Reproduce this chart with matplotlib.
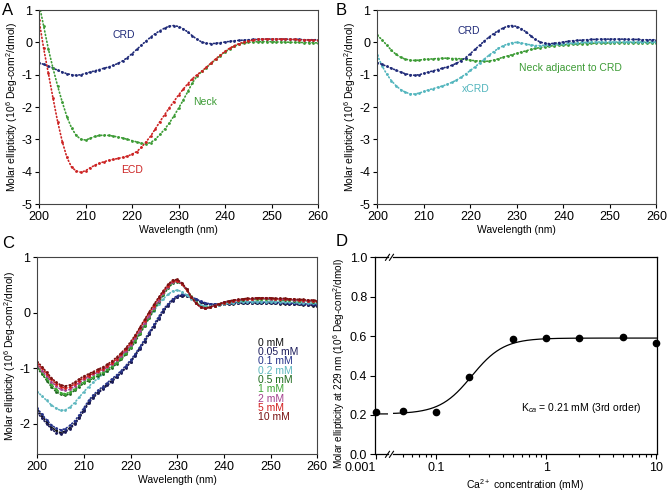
import numpy as np
import matplotlib
matplotlib.use('Agg')
import matplotlib.pyplot as plt
from matplotlib.lines import Line2D

plt.rcParams['font.family'] = ['Liberation Sans', 'DejaVu Sans']
plt.rcParams['mathtext.fontset'] = 'custom'
plt.rcParams['mathtext.rm'] = 'Liberation Sans'
plt.rcParams['mathtext.it'] = 'Liberation Sans:italic'
plt.rcParams['axes.unicode_minus'] = False

# wavelength grid (nm), 1 nm steps
wl = np.arange(200, 261)

# ---------------- panel A / B spectra (10^6 deg cm2/dmol) ----------------
crd = [-0.63, -0.68, -0.74, -0.80, -0.86, -0.92, -0.97, -1.00, -1.02, -1.00,
       -0.96, -0.92, -0.88, -0.84, -0.80, -0.76, -0.71, -0.65, -0.57, -0.47,
       -0.35, -0.22, -0.09, 0.04, 0.16, 0.27, 0.36, 0.44, 0.50, 0.52,
       0.49, 0.42, 0.32, 0.20, 0.09, 0.01, -0.03, -0.04, -0.03, -0.01,
       0.01, 0.03, 0.05, 0.06, 0.07, 0.08, 0.09, 0.09, 0.10, 0.10,
       0.10, 0.10, 0.10, 0.10, 0.09, 0.09, 0.09, 0.08, 0.08, 0.08,
       0.08]
neck = [1.20, 0.50, -0.20, -0.80, -1.35, -1.85, -2.30, -2.65, -2.88, -3.00,
        -3.02, -2.97, -2.91, -2.88, -2.87, -2.88, -2.90, -2.93, -2.96, -3.00,
        -3.04, -3.08, -3.12, -3.14, -3.10, -3.00, -2.85, -2.69, -2.50, -2.28,
        -2.04, -1.79, -1.52, -1.25, -1.04, -0.90, -0.78, -0.65, -0.53, -0.41,
        -0.30, -0.20, -0.12, -0.06, -0.02, 0.00, 0.01, 0.02, 0.02, 0.02,
        0.02, 0.01, 0.01, 0.01, 0.00, 0.00, 0.00, -0.01, -0.01, -0.01,
        -0.02]
ecd = [0.69, -0.19, -0.95, -1.72, -2.45, -3.07, -3.56, -3.86, -3.98, -4.02,
       -3.97, -3.88, -3.80, -3.74, -3.69, -3.65, -3.62, -3.59, -3.56, -3.52,
       -3.46, -3.38, -3.25, -3.08, -2.90, -2.68, -2.45, -2.24, -2.03, -1.83,
       -1.63, -1.45, -1.28, -1.12, -1.00, -0.89, -0.77, -0.64, -0.51, -0.39,
       -0.28, -0.18, -0.10, -0.04, 0.01, 0.04, 0.07, 0.09, 0.10, 0.10,
       0.10, 0.10, 0.10, 0.10, 0.09, 0.09, 0.08, 0.08, 0.07, 0.07,
       0.06]
xcrd = [-0.40, -0.72, -0.98, -1.18, -1.34, -1.46, -1.54, -1.59, -1.60, -1.57,
        -1.52, -1.47, -1.43, -1.39, -1.35, -1.30, -1.24, -1.17, -1.08, -0.98,
        -0.87, -0.76, -0.64, -0.52, -0.40, -0.29, -0.19, -0.11, -0.05, -0.01,
        0.00, -0.02, -0.05, -0.08, -0.10, -0.10, -0.09, -0.07, -0.06, -0.05,
        -0.04, -0.03, -0.02, -0.01, 0.00, 0.00, 0.01, 0.01, 0.01, 0.01,
        0.01, 0.01, 0.01, 0.01, 0.01, 0.01, 0.01, 0.01, 0.01, 0.01,
        0.01]
neck_adj = [0.22, 0.08, -0.08, -0.24, -0.37, -0.46, -0.52, -0.55, -0.56, -0.55,
            -0.53, -0.52, -0.51, -0.50, -0.49, -0.49, -0.50, -0.50, -0.51, -0.53,
            -0.55, -0.57, -0.58, -0.59, -0.58, -0.55, -0.51, -0.46, -0.42, -0.38,
            -0.34, -0.30, -0.26, -0.22, -0.19, -0.16, -0.14, -0.12, -0.10, -0.09,
            -0.08, -0.07, -0.06, -0.05, -0.04, -0.04, -0.03, -0.03, -0.02, -0.02,
            -0.02, -0.02, -0.01, -0.01, -0.01, -0.01, -0.01, -0.01, -0.01, -0.01,
            -0.01]

# ---------------- panel C: CRD at different Ca2+ ----------------
c0 = [-1.76, -1.86, -1.97, -2.06, -2.12, -2.16, -2.13, -2.07, -1.99, -1.88,
      -1.75, -1.61, -1.51, -1.43, -1.36, -1.29, -1.22, -1.15, -1.07, -0.98,
      -0.88, -0.76, -0.63, -0.51, -0.38, -0.24, -0.10, 0.03, 0.14, 0.23,
      0.29, 0.31, 0.30, 0.27, 0.23, 0.19, 0.16, 0.14, 0.14, 0.14,
      0.15, 0.16, 0.16, 0.17, 0.17, 0.17, 0.17, 0.17, 0.17, 0.17,
      0.17, 0.17, 0.16, 0.16, 0.16, 0.15, 0.15, 0.14, 0.14, 0.13,
      0.13]
c005 = [-1.80, -1.90, -2.00, -2.09, -2.16, -2.18, -2.15, -2.09, -2.01, -1.90,
        -1.77, -1.63, -1.53, -1.45, -1.38, -1.31, -1.24, -1.16, -1.08, -0.99,
        -0.89, -0.77, -0.65, -0.52, -0.39, -0.25, -0.11, 0.02, 0.13, 0.22,
        0.28, 0.31, 0.31, 0.28, 0.24, 0.20, 0.17, 0.15, 0.15, 0.15,
        0.16, 0.16, 0.17, 0.17, 0.18, 0.18, 0.18, 0.18, 0.18, 0.18,
        0.18, 0.17, 0.17, 0.17, 0.16, 0.16, 0.15, 0.15, 0.14, 0.14,
        0.13]
c01 = [-1.72, -1.83, -1.93, -2.02, -2.08, -2.11, -2.09, -2.03, -1.95, -1.84,
       -1.71, -1.58, -1.48, -1.40, -1.33, -1.26, -1.19, -1.12, -1.04, -0.95,
       -0.85, -0.74, -0.61, -0.48, -0.35, -0.21, -0.07, 0.06, 0.16, 0.25,
       0.31, 0.33, 0.32, 0.29, 0.25, 0.21, 0.18, 0.16, 0.16, 0.16,
       0.17, 0.18, 0.18, 0.19, 0.19, 0.19, 0.19, 0.19, 0.19, 0.19,
       0.19, 0.19, 0.18, 0.18, 0.18, 0.17, 0.17, 0.16, 0.16, 0.15,
       0.15]
c02 = [-1.42, -1.50, -1.58, -1.66, -1.72, -1.76, -1.75, -1.70, -1.62, -1.52,
       -1.42, -1.33, -1.25, -1.18, -1.11, -1.04, -0.97, -0.89, -0.80, -0.70,
       -0.59, -0.47, -0.34, -0.21, -0.08, 0.04, 0.15, 0.25, 0.33, 0.39,
       0.41, 0.38, 0.32, 0.25, 0.19, 0.14, 0.12, 0.12, 0.13, 0.14,
       0.16, 0.17, 0.18, 0.19, 0.20, 0.20, 0.20, 0.20, 0.20, 0.20,
       0.20, 0.20, 0.20, 0.19, 0.19, 0.19, 0.18, 0.18, 0.17, 0.17,
       0.17]
c05 = [-1.00, -1.10, -1.22, -1.33, -1.42, -1.47, -1.49, -1.46, -1.40, -1.33,
       -1.27, -1.22, -1.18, -1.14, -1.10, -1.05, -0.99, -0.92, -0.84, -0.75,
       -0.64, -0.52, -0.38, -0.24, -0.09, 0.05, 0.19, 0.32, 0.44, 0.53,
       0.56, 0.51, 0.41, 0.29, 0.18, 0.11, 0.09, 0.10, 0.13, 0.16,
       0.18, 0.20, 0.21, 0.22, 0.23, 0.24, 0.24, 0.24, 0.24, 0.24,
       0.24, 0.24, 0.23, 0.23, 0.23, 0.22, 0.22, 0.21, 0.21, 0.20,
       0.20]
c1 = [-0.97, -1.07, -1.18, -1.29, -1.38, -1.44, -1.46, -1.43, -1.37, -1.30,
      -1.24, -1.19, -1.15, -1.11, -1.07, -1.02, -0.96, -0.89, -0.81, -0.72,
      -0.61, -0.49, -0.36, -0.22, -0.07, 0.07, 0.21, 0.34, 0.46, 0.55,
      0.57, 0.52, 0.42, 0.30, 0.19, 0.11, 0.09, 0.10, 0.13, 0.16,
      0.19, 0.21, 0.22, 0.23, 0.24, 0.25, 0.25, 0.25, 0.25, 0.25,
      0.25, 0.24, 0.24, 0.24, 0.23, 0.23, 0.22, 0.22, 0.21, 0.21,
      0.21]
c2 = [-0.95, -1.04, -1.14, -1.24, -1.32, -1.38, -1.40, -1.38, -1.32, -1.26,
      -1.20, -1.15, -1.11, -1.07, -1.03, -0.98, -0.92, -0.85, -0.77, -0.68,
      -0.58, -0.46, -0.33, -0.19, -0.05, 0.09, 0.22, 0.35, 0.47, 0.56,
      0.58, 0.52, 0.42, 0.29, 0.18, 0.10, 0.08, 0.10, 0.13, 0.16,
      0.19, 0.21, 0.22, 0.23, 0.24, 0.25, 0.25, 0.26, 0.26, 0.26,
      0.25, 0.25, 0.25, 0.24, 0.24, 0.23, 0.23, 0.22, 0.22, 0.21,
      0.21]
c5 = [-0.92, -1.00, -1.10, -1.20, -1.28, -1.33, -1.36, -1.34, -1.28, -1.22,
      -1.17, -1.13, -1.09, -1.05, -1.01, -0.96, -0.90, -0.83, -0.75, -0.66,
      -0.55, -0.42, -0.28, -0.14, 0.00, 0.13, 0.26, 0.38, 0.49, 0.57,
      0.58, 0.52, 0.41, 0.28, 0.17, 0.10, 0.08, 0.10, 0.13, 0.16,
      0.18, 0.20, 0.22, 0.23, 0.24, 0.25, 0.25, 0.26, 0.26, 0.26,
      0.26, 0.25, 0.25, 0.25, 0.24, 0.24, 0.23, 0.23, 0.22, 0.22,
      0.21]
c10 = [-0.88, -0.97, -1.07, -1.17, -1.25, -1.30, -1.32, -1.30, -1.25, -1.19,
       -1.14, -1.10, -1.06, -1.02, -0.98, -0.93, -0.87, -0.80, -0.72, -0.63,
       -0.52, -0.40, -0.26, -0.12, 0.02, 0.15, 0.28, 0.40, 0.51, 0.59,
       0.60, 0.54, 0.43, 0.29, 0.17, 0.10, 0.08, 0.10, 0.13, 0.16,
       0.19, 0.21, 0.23, 0.24, 0.25, 0.26, 0.26, 0.27, 0.27, 0.27,
       0.27, 0.26, 0.26, 0.26, 0.25, 0.25, 0.24, 0.24, 0.23, 0.23,
       0.22]
ca_labels = ['0 mM', '0.05 mM', '0.1 mM', '0.2 mM', '0.5 mM', '1 mM', '2 mM', '5 mM', '10 mM']
ca_colors = ['#111111', '#1b1b5a', '#26338a', '#5db7bf', '#1e6a1e', '#3ca634', '#a4418f', '#d21d1d', '#7a1212']
c_series = [c0, c005, c01, c02, c05, c1, c2, c5, c10]

# ---------------- panel D: titration at 229 nm ----------------
ca_conc = np.array([0.001, 0.05, 0.1, 0.2, 0.5, 1, 2, 5, 10])
ell_229 = np.array([0.216, 0.220, 0.216, 0.390, 0.583, 0.590, 0.592, 0.594, 0.565])
fit_bottom, fit_top, kd, hill_n = 0.205, 0.59, 0.21, 3

navy = '#1f2a78'
green = '#3c9b35'
red = '#cc2222'
cyan = '#52b5bd'
fs_tick = 9
fs_lab = 7.5
ylab = 'Molar ellipticity (10$^{6}$ Deg-com$^{2}$/dmol)'


def dots(ax, y, c):
    ax.plot(wl, y, color=c, ls=(0, (0.6, 1.5)), lw=1.2, dash_capstyle='round',
            marker='o', ms=2.0, mew=0)


def style(ax, ylim, yticks):
    ax.set_xlim(200, 260)
    ax.set_ylim(*ylim)
    ax.set_xticks(range(200, 261, 10))
    ax.set_yticks(yticks)
    ax.tick_params(direction='out', length=3, width=0.8, labelsize=fs_tick, pad=2)
    ax.set_xlabel('Wavelength (nm)', fontsize=fs_lab, labelpad=1.5)
    ax.set_ylabel(ylab, fontsize=fs_lab, labelpad=1)
    for s in ax.spines.values():
        s.set_color('#444444')
        s.set_linewidth(0.8)


fig = plt.figure(figsize=(6.67, 4.91), dpi=100)

# A
axA = fig.add_axes([0.0585, 0.5845, 0.4183, 0.3951])
dots(axA, crd, navy)
dots(axA, neck, green)
dots(axA, ecd, red)
style(axA, (-5, 1), range(-5, 2))
axA.text(218.3, 0.24, 'CRD', color=navy, fontsize=fs_lab, ha='center', va='center')
axA.text(235.7, -1.86, 'Neck', color=green, fontsize=fs_lab, ha='center', va='center')
axA.text(220.0, -3.96, 'ECD', color=red, fontsize=fs_lab, ha='center', va='center')

# B
axB = fig.add_axes([0.5657, 0.5845, 0.4183, 0.3951])
dots(axB, neck_adj, green)
dots(axB, xcrd, cyan)
dots(axB, crd, navy)
style(axB, (-5, 1), range(-5, 2))
axB.text(219.6, 0.36, 'CRD', color=navy, fontsize=fs_lab, ha='center', va='center')
axB.text(221.1, -1.43, 'xCRD', color=cyan, fontsize=fs_lab, ha='center', va='center')
axB.text(241.5, -0.78, 'Neck adjacent to CRD', color=green, fontsize=fs_lab, ha='center', va='center')

# C
axC = fig.add_axes([0.0559, 0.0747, 0.4198, 0.4013])
for y, c in zip(c_series, ca_colors):
    dots(axC, y, c)
style(axC, (-2.55, 1), [-2, -1, 0, 1])
for i, (lab, c) in enumerate(zip(ca_labels, ca_colors)):
    axC.text(247.3, -0.54 - i * 0.168, lab, color=c, fontsize=fs_lab, ha='left', va='center')

# D (broken log axis)
xfit = np.logspace(-3.05, 1.05, 400)
yfit = fit_bottom + (fit_top - fit_bottom) * xfit ** hill_n / (kd ** hill_n + xfit ** hill_n)

axDl = fig.add_axes([0.5622, 0.0747, 0.0195, 0.4013])
axDr = fig.add_axes([0.5892, 0.0747, 0.3958, 0.4013])
axDl.set_xlim(0.000973, 0.001277)
axDr.set_xlim(0.0404, 10.15)
for ax in (axDl, axDr):
    ax.set_xscale('log')
    lo, hi = ax.get_xlim()
    keep = (ca_conc >= lo) & (ca_conc <= hi)
    ax.plot(xfit, yfit, color='black', lw=0.9)
    ax.plot(ca_conc[keep], ell_229[keep], 'o', color='black', ms=4.5, clip_on=False, zorder=3)
    ax.set_ylim(0, 1.0)
    ax.tick_params(which='both', direction='out', width=0.8, labelsize=fs_tick, pad=2)
    ax.tick_params(which='major', length=3.5)
    ax.tick_params(which='minor', length=2)
    for s in ax.spines.values():
        s.set_color('black')
        s.set_linewidth(0.9)

axDl.set_xticks([0.001])
axDl.set_xticklabels(['0.001'])
axDl.xaxis.set_minor_locator(matplotlib.ticker.NullLocator())
for lab in axDl.get_xticklabels():
    lab.set_ha('right')
axDl.spines['right'].set_visible(False)
axDl.set_yticks(np.arange(0, 1.01, 0.2))
axDl.set_yticklabels(['0.0', '0.2', '0.4', '0.6', '0.8', '1.0'])
axDl.set_ylabel('Molar ellipticity at 229 nm (10$^{6}$ Deg-com$^{2}$/dmol)', fontsize=7.2)
axDl.yaxis.set_label_coords(-2.15, 0.46)

axDr.set_xticks([0.1, 1, 10])
axDr.set_xticklabels(['0.1', '1', '10'])
axDr.xaxis.set_minor_locator(matplotlib.ticker.LogLocator(subs=np.arange(2, 10)))
axDr.xaxis.set_minor_formatter(matplotlib.ticker.NullFormatter())
axDr.spines['left'].set_visible(False)
axDr.tick_params(axis='y', left=False, labelleft=False)
axDr.set_xlabel('Ca$^{2+}$ concentration (mM)', fontsize=fs_lab, labelpad=2)
axDr.text(0.59, 0.235, 'K$_{ca}$ = 0.21 mM (3rd order)', fontsize=fs_lab, ha='left', va='center')

# break marks
for ypix in (257.3, 454.3):
    for xpix in (387.5, 391.5):
        fig.add_artist(Line2D([(xpix - 2) / 667, (xpix + 2) / 667],
                              [1 - (ypix + 3) / 491, 1 - (ypix - 3) / 491],
                              color='black', lw=0.8))

# panel letters
for lab, x, y in [('A', 2, 3), ('B', 336, 3), ('C', 2, 236), ('D', 336, 234)]:
    fig.text(x / 667, 1 - y / 491, lab, fontsize=12, ha='left', va='top')

fig.savefig('out.png', dpi=100)
